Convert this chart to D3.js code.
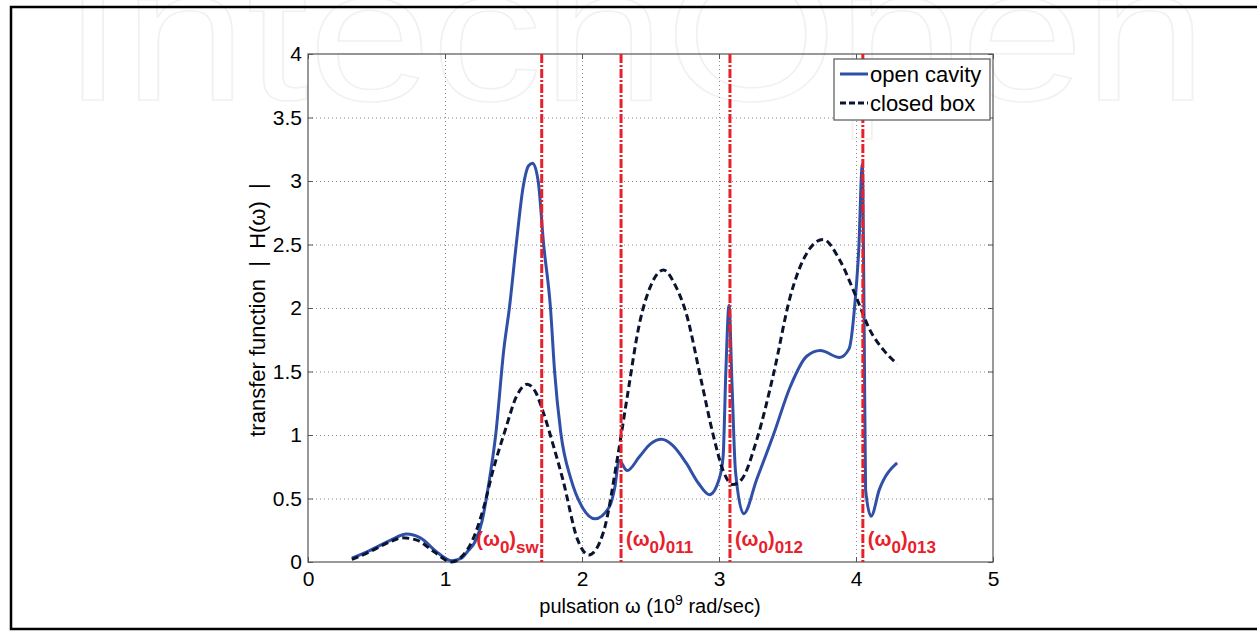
<!DOCTYPE html>
<meta charset="utf-8">
<style>
body { margin: 0; background: #fff; font-family: 'Liberation Sans', Arial, sans-serif; }
.grid line { stroke: #8a8a8a; stroke-width: 1; stroke-dasharray: 1,3; }
.grid path { display: none; }
.ax path { display: none; }
.ax line { stroke: #555; }
.ax text { font-size: 21px; fill: #000; font-family: 'Liberation Sans', Arial, sans-serif; }
.mode { font-weight: bold; fill: #e8202a; font-size: 20px; }
</style>
<body>
<script src="https://d3js.org/d3.v7.min.js"></script>
<script>
var width = 1257,
    height = 632;

// curves: [pulsation (1e9 rad/s), |H|]
var openCavity = [[0.32,0.03],[0.45,0.09],[0.6,0.17],[0.72,0.22],[0.82,0.19],[0.95,0.07],[1.05,0.01],[1.12,0.03],
  [1.17,0.09],[1.22,0.16],[1.27,0.32],[1.32,0.62],[1.37,1.0],[1.43,1.68],[1.47,2.0],[1.52,2.5],[1.57,2.95],
  [1.61,3.12],[1.64,3.14],[1.68,3.0],[1.72,2.5],[1.77,2.0],[1.80,1.5],[1.845,1.02],[1.92,0.65],[2.0,0.435],
  [2.095,0.34],[2.20,0.435],[2.24,0.59],[2.27,0.80],[2.33,0.72],[2.42,0.83],[2.50,0.93],[2.58,0.966],[2.66,0.92],
  [2.76,0.78],[2.85,0.62],[2.93,0.53],[3.0,0.65],[3.03,0.83],[3.05,1.5],[3.073,2.02],[3.095,1.4],[3.12,0.72],
  [3.18,0.38],[3.275,0.65],[3.40,1.01],[3.52,1.38],[3.64,1.62],[3.74,1.665],[3.88,1.61],[3.95,1.68],[3.99,2.01],
  [4.02,2.46],[4.046,3.13],[4.06,1.8],[4.07,0.57],[4.11,0.36],[4.17,0.57],[4.30,0.78]];

var closedBox = [[0.32,0.02],[0.45,0.08],[0.58,0.15],[0.69,0.19],[0.8,0.17],[0.92,0.08],[1.05,0.0],[1.12,0.04],
  [1.2,0.17],[1.28,0.42],[1.35,0.72],[1.44,1.04],[1.52,1.30],[1.60,1.40],[1.66,1.34],[1.72,1.17],[1.79,0.92],
  [1.86,0.65],[1.97,0.17],[2.05,0.055],[2.155,0.23],[2.265,0.86],[2.33,1.30],[2.42,1.88],[2.50,2.17],[2.595,2.30],
  [2.68,2.18],[2.76,1.96],[2.87,1.43],[2.96,0.99],[3.03,0.72],[3.10,0.61],[3.165,0.65],[3.275,0.96],[3.40,1.49],
  [3.52,2.09],[3.64,2.43],[3.76,2.54],[3.88,2.38],[4.0,2.09],[4.10,1.83],[4.20,1.67],[4.30,1.56]];

// resonance markers
var modeFreq = [1.706, 2.285, 3.08, 4.05];
var modeSub = ["sw", "011", "012", "013"];

var xTicks = [0, 1, 2, 3, 4, 5];
var yTicks = [0, 0.5, 1, 1.5, 2, 2.5, 3, 3.5, 4];
var seriesNames = ["open cavity", "closed box"];

var svg = d3.select("body").append("svg")
    .attr("width", width)
    .attr("height", height);

svg.append("rect").attr("width", width).attr("height", height).attr("fill", "#fff");

// faint watermark at the top
svg.append("text")
    .attr("x", 62).attr("y", 100)
    .attr("textLength", 1145)
    .attr("lengthAdjust", "spacingAndGlyphs")
    .style("font-size", "190px")
    .style("font-family", "'Liberation Sans', Arial, sans-serif")
    .attr("fill", "none")
    .attr("stroke", "#f1f1f1")
    .attr("stroke-width", 1.5)
    .text("IntechOpen");

// outer frame
svg.append("path")
    .attr("d", "M1260,7H11V629H1260")
    .attr("fill", "none")
    .attr("stroke", "#000")
    .attr("stroke-width", 2.5);

var x = d3.scaleLinear().domain([0, 5]).range([308, 993]);
var y = d3.scaleLinear().domain([0, 4]).range([562, 54]);

// grid
svg.append("g").attr("class", "grid")
    .attr("transform", "translate(0,562)")
    .call(d3.axisBottom(x).tickValues(xTicks.slice(1, -1)).tickSize(-508).tickFormat(""));
svg.append("g").attr("class", "grid")
    .attr("transform", "translate(308,0)")
    .call(d3.axisLeft(y).tickValues(yTicks.slice(1, -1)).tickSize(-685).tickFormat(""));

// box
svg.append("rect")
    .attr("x", 308).attr("y", 54).attr("width", 685).attr("height", 508)
    .attr("fill", "none").attr("stroke", "#555").attr("stroke-width", 1.2);

// axes, ticks pointing inward
svg.append("g").attr("class", "ax")
    .attr("transform", "translate(0,562)")
    .call(d3.axisBottom(x).tickValues(xTicks).tickSize(-5).tickPadding(9).tickFormat(d3.format("d")));
svg.append("g").attr("class", "ax")
    .attr("transform", "translate(0,54)")
    .call(d3.axisTop(x).tickValues(xTicks).tickSize(-5).tickFormat(""));
svg.append("g").attr("class", "ax")
    .attr("transform", "translate(308,0)")
    .call(d3.axisLeft(y).tickValues(yTicks).tickSize(-5).tickPadding(6).tickFormat(d => d));
svg.append("g").attr("class", "ax")
    .attr("transform", "translate(993,0)")
    .call(d3.axisRight(y).tickValues(yTicks).tickSize(-5).tickFormat(""));

// axis titles
var xt = svg.append("text")
    .attr("x", 650).attr("y", 613)
    .attr("text-anchor", "middle")
    .style("font-size", "20px");
xt.append("tspan").text("pulsation ω (10");
xt.append("tspan").attr("dy", -8).style("font-size", "14px").text("9");
xt.append("tspan").attr("dy", 8).text(" rad/sec)");

svg.append("text")
    .attr("transform", "translate(265,310) rotate(-90)")
    .attr("text-anchor", "middle")
    .attr("xml:space", "preserve")
    .style("font-size", "22px")
    .text("transfer function  |  H(ω)  |");

// curves
var line = d3.line()
    .x(d => x(d[0]))
    .y(d => y(d[1]))
    .curve(d3.curveMonotoneX);

svg.append("path")
    .datum(openCavity)
    .attr("d", line)
    .attr("fill", "none")
    .attr("stroke", "#3050a8")
    .attr("stroke-width", 3)
    .attr("stroke-linejoin", "round");

svg.append("path")
    .datum(closedBox)
    .attr("d", line)
    .attr("fill", "none")
    .attr("stroke", "#0a1430")
    .attr("stroke-width", 3)
    .attr("stroke-dasharray", "7,4");

// mode lines
svg.append("g").selectAll("line")
  .data(modeFreq)
  .join("line")
    .attr("x1", d => x(d)).attr("x2", d => x(d))
    .attr("y1", y(4)).attr("y2", y(0))
    .attr("stroke", "#e8202a")
    .attr("stroke-width", 3)
    .attr("stroke-dasharray", "9,2,2,2");

var lab = svg.append("g").selectAll("text")
  .data(modeFreq)
  .join("text")
    .attr("class", "mode")
    .attr("x", (d, i) => i == 0 ? x(d) - 3 : x(d) + 5)
    .attr("y", 546)
    .attr("text-anchor", (d, i) => i == 0 ? "end" : "start");
lab.append("tspan").text("(ω");
lab.append("tspan").attr("dy", 7).style("font-size", "17px").text("0");
lab.append("tspan").attr("dy", -7).text(")");
lab.append("tspan").attr("dy", 7).style("font-size", "17px").text((d, i) => modeSub[i]);

// legend
var lg = svg.append("g");
lg.append("rect")
    .attr("x", 834).attr("y", 59).attr("width", 156).attr("height", 61)
    .attr("fill", "#fff").attr("stroke", "#555").attr("stroke-width", 1.2);
lg.selectAll("line")
  .data(seriesNames)
  .join("line")
    .attr("x1", 840).attr("x2", 868)
    .attr("y1", (d, i) => 74 + i * 29).attr("y2", (d, i) => 74 + i * 29)
    .attr("stroke", (d, i) => i == 0 ? "#3050a8" : "#0a1430")
    .attr("stroke-width", 3)
    .attr("stroke-dasharray", (d, i) => i == 0 ? null : "6,3");
lg.selectAll("text")
  .data(seriesNames)
  .join("text")
    .attr("x", 870)
    .attr("y", (d, i) => 82 + i * 29)
    .style("font-size", "22px")
    .text(d => d);
</script>
